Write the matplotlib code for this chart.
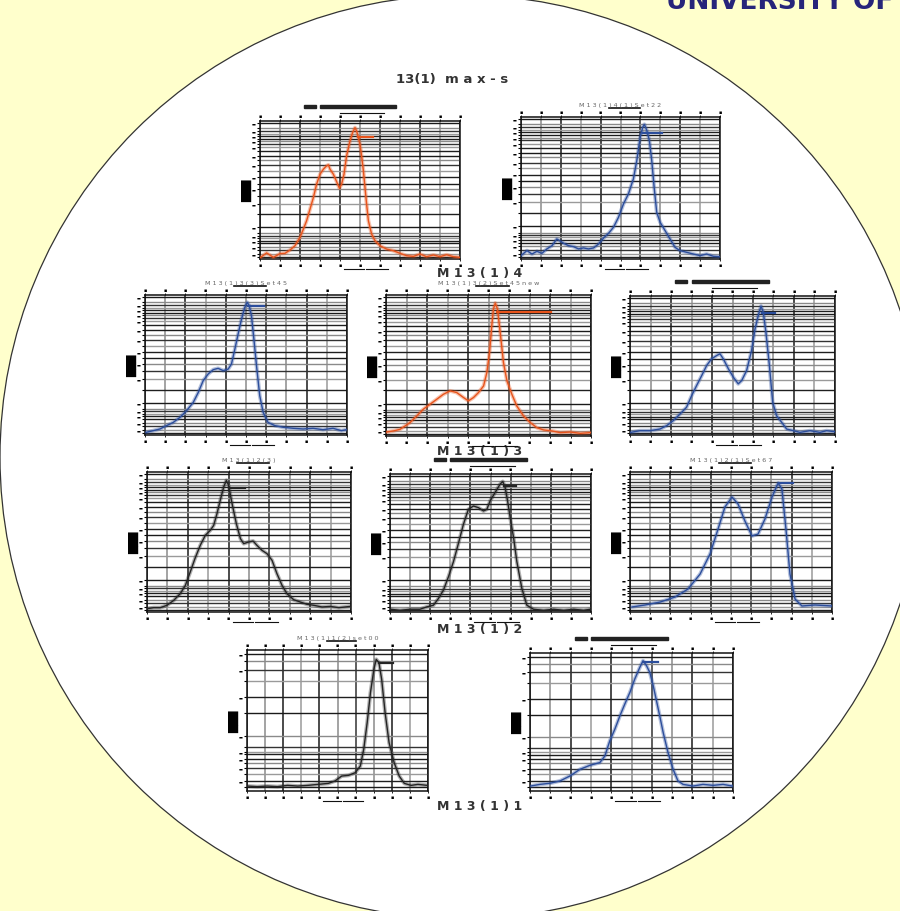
import matplotlib.pyplot as plt
from matplotlib.patches import Circle, Rectangle

ORANGE = '#e8541c'
BLUE = '#2c4e9c'
BLACK = '#242424'

# spectra, both axes on a 0-100 scale
m14_x = [0.3, 3.3, 6.7, 10, 12.5, 15, 17.5, 20, 21.7, 23.3, 25, 26.7, 28.3, 30, 31.7, 33.3, 34.2, 35, 36.7, 38.3,
         39.7, 40.8, 42, 43.3, 45, 46.3, 47.5, 48.3, 49.2, 50, 50.8, 51.7, 52.5, 53.3, 54.2, 55.8, 57.5, 60, 63.3,
         66.7, 70, 73.3, 76.7, 80, 83.3, 86.7, 90, 93.3, 96.7, 99.7]
m14_y = [1.2, 4.4, 1.2, 3.9, 4.1, 6.5, 9.6, 15.7, 21.7, 27.7, 36.1, 44.6, 54.2, 61.4, 65.1, 67.5, 68.2, 65.1, 61.4, 56.1,
         51.3, 54.2, 61.4, 74.7, 85.5, 91.6, 95.2, 92.8, 88.0, 83.1, 74.7, 63.9, 51.8, 39.8, 27.7, 18.1, 13.3, 9.6, 7.2,
         6.0, 4.1, 2.4, 1.9, 3.6, 1.7, 2.9, 1.7, 3.1, 1.7, 1.2]
m14_peak = (88.7, 49.2, 56.3)

m141_x = [0, 3, 5.5, 8, 10.5, 13, 15.6, 18, 19.4, 21.4, 23.9, 26.4, 28.9, 31.4, 33.9, 36.5, 39, 41.5, 44, 46.5, 49,
          51.5, 54, 56.5, 58.2, 59.9, 61.2, 62, 63.2, 64.5, 65.7, 66.9, 68.2, 69.9, 72.4, 74.9, 77.4, 79.9, 83.3,
          86.6, 90, 93.3, 96.7, 100]
m141_y = [2.4, 5.9, 3.5, 5.4, 4.0, 7.1, 9.4, 14.1, 12.9, 11.1, 9.4, 8.7, 7.1, 7.8, 7.1, 7.8, 10.6, 14.8, 18.1, 22.4,
          29.4, 38.8, 45.9, 56.5, 69.4, 85.9, 92.9, 94.8, 90.6, 83.5, 69.4, 50.6, 32.9, 25.9, 20.0, 14.1, 8.2, 5.9,
          4.7, 3.5, 2.4, 3.5, 1.9, 1.6]
m141_peak = (88.9, 61.5, 70.7)

m133_x = [0.5, 4.1, 7.4, 10.7, 14, 17.3, 20.6, 23.9, 26.4, 28.8, 31.3, 33.8, 36.2, 38.7, 41.2, 42.8, 44.5, 46.1, 47.8,
          49.4, 50.6, 51.6, 52.7, 53.9, 55.2, 56.8, 58.5, 60.9, 64.3, 68.4, 73.3, 78.3, 83.2, 88.1, 93.1, 97.2, 99.7]
m133_y = [1.9, 3.1, 4.3, 6.7, 9.0, 12.6, 17.4, 23.3, 30.5, 38.8, 43.6, 46.7, 47.6, 46.0, 47.1, 50.7, 61.4, 72.1, 82.9,
          91.2, 94.8, 92.4, 85.2, 68.6, 49.5, 28.1, 16.2, 9.0, 6.7, 5.5, 4.8, 4.3, 4.8, 3.8, 4.8, 3.1, 3.8]
m133_peak = (91.9, 51.1, 59.0)

m132_x = [0.3, 3.6, 6.8, 9.3, 11.7, 15, 18.2, 21.5, 24.8, 28, 31.3, 34.5, 37.8, 40.2, 42.7, 45.1, 47.6, 49.2, 50.5,
          51.6, 52.4, 53.3, 54.4, 55.7, 57.3, 59, 61.4, 63.8, 67.1, 70.4, 73.6, 76.9, 80.9, 85, 89.9, 94.8, 99.7]
m132_y = [2.8, 3.6, 4.7, 7.1, 9.5, 14.2, 19.0, 22.5, 26.1, 29.6, 32.0, 30.8, 27.3, 24.9, 27.3, 30.8, 35.5, 45.0, 59.2,
          78.2, 90.0, 94.3, 90.0, 73.5, 52.1, 39.1, 29.6, 21.3, 14.2, 9.5, 5.9, 4.3, 3.6, 2.4, 2.8, 1.9, 2.4]
m132_peak = (87.7, 54.1, 80.5)

m13x_x = [0.3, 4.9, 9.8, 14.6, 17.9, 21.1, 24.4, 27.6, 30.1, 32.5, 35, 37.4, 39.8, 42.3, 43.9, 45.5, 48, 50.4, 52.8,
          54.5, 56.9, 59.3, 61, 62.6, 63.9, 65, 66.3, 68, 69.6, 71.5, 74, 76.4, 79.7, 82.9, 87.8, 92.7, 95.9, 99.7]
m13x_y = [1.9, 3.1, 3.1, 4.3, 6.7, 10.3, 15.1, 20.0, 28.4, 35.6, 42.8, 50.0, 54.8, 57.2, 58.4, 54.8, 47.6, 41.6, 36.8,
          39.2, 46.4, 60.8, 76.4, 86.1, 92.8, 88.5, 74.0, 50.0, 23.6, 13.9, 9.1, 4.3, 3.1, 1.9, 3.1, 1.9, 3.1, 2.4]
m13x_peak = (87.7, 64.2, 70.7)

m123_x = [0.3, 3.3, 6.5, 9.8, 13.1, 16.3, 18.8, 21.2, 23.5, 26.1, 28.6, 31, 32.7, 34.3, 35.9, 37.6, 38.9, 40, 41.7,
          43.8, 45.8, 47.4, 49.8, 52, 53.9, 56.4, 58.8, 61.3, 63.7, 66.2, 68.6, 71.9, 75.2, 78.4, 81.7, 85.8, 89.9,
          94, 99.7]
m123_y = [2.4, 3.1, 3.1, 4.8, 8.3, 13.1, 19.0, 28.6, 38.1, 47.6, 54.8, 58.3, 61.9, 70.2, 79.8, 89.3, 94.0, 90.5, 77.4,
          63.1, 52.4, 48.8, 50.0, 50.7, 47.6, 44.0, 41.7, 36.9, 27.4, 19.0, 13.1, 8.8, 7.1, 5.5, 4.8, 3.6, 4.0, 3.1, 4.0]
m123_peak = (88.6, 40.8, 48.2)

m12_x = [0.3, 5, 10, 14.9, 18.3, 21.6, 24.1, 26.6, 29.1, 31.6, 34.1, 36.5, 39, 41.5, 44, 46.5, 48.2, 49.8, 52.3, 54.8,
         56.1, 57.3, 58.5, 59.8, 61.5, 63.1, 65.6, 68.1, 71.4, 76.4, 81.4, 86.4, 91.4, 96.3, 99.7]
m12_y = [2.0, 1.2, 2.0, 2.0, 3.7, 4.9, 9.8, 15.9, 25.6, 36.6, 50.0, 63.4, 74.4, 76.8, 75.6, 73.2, 74.4, 80.5, 86.6,
         92.7, 94.6, 90.2, 80.5, 68.3, 53.7, 36.6, 17.1, 4.9, 2.0, 1.2, 2.0, 1.2, 2.0, 1.2, 2.0]
m12_peak = (91.5, 56.5, 62.8)

m121_x = [1, 7.4, 14.9, 22.3, 28.7, 34.7, 39.6, 43.6, 47, 50.5, 53.5, 56.9, 60.4, 63.4, 66.8, 70.3, 73.3, 75.2, 77.2,
          79.2, 81.7, 85.1, 91.6, 100]
m121_y = [3.6, 5.0, 7.1, 10.7, 16.4, 27.1, 41.4, 59.3, 75.0, 82.1, 77.1, 65.0, 54.3, 55.7, 66.4, 82.1, 92.1, 87.9,
          59.3, 27.1, 9.3, 4.3, 5.0, 4.3]
m121_peak = (92.1, 73.8, 80.5)

m112_x = [0.4, 5.6, 11.2, 16.8, 22.4, 28, 33.6, 39.3, 44.9, 48.6, 52.3, 56.1, 59.8, 62.6, 64.5, 66.4, 68.2, 70.1, 71.4,
          72.9, 74.4, 76.3, 78.5, 81.3, 84.1, 86.9, 90.7, 94.4, 99.6]
m112_y = [3.5, 3.1, 3.5, 3.1, 4.0, 3.5, 4.0, 4.7, 5.4, 7.1, 10.6, 11.1, 13.0, 17.7, 29.6, 48.5, 69.7, 86.3, 93.4,
          91.0, 79.2, 55.6, 34.3, 20.1, 10.6, 5.4, 4.0, 4.7, 4.0]
m112_peak = (90.5, 72.9, 80.4)

m11_x = [0.3, 4.9, 9.8, 14.8, 19.7, 24.6, 29.5, 34.4, 36.9, 39.3, 41.8, 44.3, 46.7, 49.2, 51.6, 54.1, 55.7, 57.4, 59,
         60.7, 62.3, 63.9, 65.6, 68, 70.5, 72.9, 75.4, 80.3, 85.2, 90.2, 95.1, 99.7]
m11_y = [3.6, 4.8, 5.6, 7.3, 10.9, 15.7, 18.6, 20.6, 25.4, 36.3, 44.8, 54.5, 63.0, 71.4, 81.1, 89.6, 94.4, 90.8, 86.0,
         76.3, 65.4, 54.5, 42.4, 27.8, 15.7, 7.3, 4.8, 3.6, 4.8, 4.1, 4.8, 3.6]
m11_peak = (93.7, 55.7, 63.1)

titles = ['', 'M 1 3 ( 1 ) 4 ( 1 ) S e t 2 2',
          'M 1 3 ( 1 ) 3 ( 3 ) S e t 4 5', 'M 1 3 ( 1 ) 3 ( 2 ) S e t 4 5 n e w', '',
          'M 1 3 ( 1 ) 2 ( 3 )', '', 'M 1 3 ( 1 ) 2 ( 1 ) S e t 6 7',
          'M 1 3 ( 1 ) 1 ( 2 ) s e t 0 0', '']
row_labels = ['M 1 3 ( 1 ) 4', 'M 1 3 ( 1 ) 3', 'M 1 3 ( 1 ) 2', 'M 1 3 ( 1 ) 1']

# horizontal rulings of the chart paper
hgrid = [98.8, 95.2, 92.8, 90.8, 89.2, 87.2, 85.5, 83.6, 81.2, 78.3, 74.7, 71.6, 67.9, 63.9, 59.5, 54.7, 50.6, 45.8,
         39.8, 32.5, 22.9, 18.6, 16.9, 15.2, 13.3, 11.3, 8.9, 6.5, 3.6, 1.2]
hgrid_sparse = [97, 92, 86, 78, 67, 55, 39, 31, 28, 26, 23, 20, 16, 12, 7, 3]
vgrid = list(range(0, 101, 10))

panels = [
    ([260, 122, 460, 260], m14_x, m14_y, m14_peak, ORANGE, hgrid),
    ([521, 118, 720, 260], m141_x, m141_y, m141_peak, BLUE, hgrid),
    ([145, 296, 347, 436], m133_x, m133_y, m133_peak, BLUE, hgrid),
    ([386, 296, 591, 437], m132_x, m132_y, m132_peak, ORANGE, hgrid),
    ([630, 297, 835, 436], m13x_x, m13x_y, m13x_peak, BLUE, hgrid),
    ([147, 473, 351, 613], m123_x, m123_y, m123_peak, BLACK, hgrid),
    ([390, 475, 591, 613], m12_x, m12_y, m12_peak, BLACK, hgrid),
    ([630, 473, 832, 613], m121_x, m121_y, m121_peak, BLUE, hgrid),
    ([247, 651, 428, 792], m112_x, m112_y, m112_peak, BLACK, hgrid_sparse),
    ([530, 654, 733, 792], m11_x, m11_y, m11_peak, BLUE, hgrid_sparse),
]
W, H = 900, 912

fig = plt.figure(figsize=(9, 9.12), dpi=100, facecolor='#ffffcc')
bg = fig.add_axes([0, 0, 1, 1])
bg.set_xlim(0, W)
bg.set_ylim(H, 0)
bg.axis('off')
bg.add_patch(Circle((462, 458), 462, fc='white', ec='#333333', lw=0.9))
bg.text(666, 9, 'UNIVERSITY OF', fontsize=19, fontweight='bold', color='#27257a',
        ha='left', va='baseline')
bg.text(452, 80, '13(1)  m a x - s', fontsize=9.5, fontweight='bold', color='#333333', ha='center', va='center')
for lab, y in zip(row_labels, [274, 452, 630, 807]):
    bg.text(480, y, lab, fontsize=9, fontweight='bold', color='#333333', ha='center', va='center')

gcols = ['#1a1a1a', '#8a8a8a', '#333333', '#9a9a9a', '#1f1f1f']
for i, (box, xs, ys, peak, col, hg) in enumerate(panels):
    x0, y0, x1, y1 = box
    ax = fig.add_axes([x0 / W, 1 - y1 / H, (x1 - x0) / W, (y1 - y0) / H])
    ax.set_xlim(0, 100)
    ax.set_ylim(0, 100)
    for k, g in enumerate(vgrid):
        ax.axvline(g, color=gcols[k % 2 * 1 + (k % 3 == 0) * 2], lw=1.1, zorder=1)
    for k, g in enumerate(hg):
        ax.axhline(g, color=gcols[k % len(gcols)], lw=1.0, zorder=1)
    ax.plot(xs, ys, color=col, lw=2.8, alpha=0.35, zorder=3)
    ax.plot(xs, ys, color=col, lw=1.0, zorder=4)
    py, px0, px1 = peak
    ax.plot([px0, px1], [py, py], color=col, lw=1.6, zorder=4)
    for s in ax.spines.values():
        s.set_linewidth(1.1)
        s.set_color('#111111')
    ax.set_xticks(vgrid)
    ax.set_xticklabels(['\u25aa'] * len(vgrid))
    ax.set_yticks(hg)
    ax.set_yticklabels(['\u25ac' if k % 2 == 0 else '' for k in range(len(hg))])
    ax.tick_params(axis='x', top=True, labeltop=True, length=1.5, width=0.6, labelsize=3.5, pad=0.5)
    ax.tick_params(axis='y', length=2.5, width=0.8, labelsize=3, pad=0.5)
    ax.set_ylabel('\u2588\u2588\u2588', fontsize=7, labelpad=0)
    # small rulers above and below the plot
    ax.plot([0.42, 0.52], [-0.07, -0.07], transform=ax.transAxes, color='#111111', lw=0.8, clip_on=False)
    ax.plot([0.53, 0.64], [-0.07, -0.07], transform=ax.transAxes, color='#111111', lw=0.8, clip_on=False)
    if titles[i]:
        ax.text(0.5, 1.09, titles[i], transform=ax.transAxes, fontsize=4.6, color='#666666',
                ha='center', va='center')
        ax.plot([0.44, 0.60], [1.065, 1.065], transform=ax.transAxes, color='#111111', lw=1.2, clip_on=False)
    else:
        ax.add_patch(Rectangle((0.22, 1.095), 0.06, 0.022, transform=ax.transAxes, color='#222222',
                               clip_on=False))
        ax.add_patch(Rectangle((0.30, 1.095), 0.38, 0.022, transform=ax.transAxes, color='#222222',
                               clip_on=False))
        ax.plot([0.40, 0.62], [1.06, 1.06], transform=ax.transAxes, color='#111111', lw=0.8, clip_on=False)

fig.savefig('out.png', dpi=100, facecolor=fig.get_facecolor())
